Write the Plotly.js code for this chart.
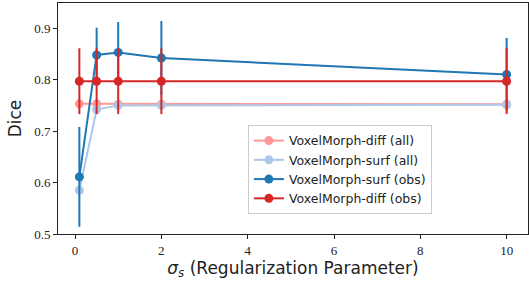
<!DOCTYPE html>
<html><head><meta charset="utf-8">
<script src="https://cdn.plot.ly/plotly-3.0.1.min.js"></script>
<style>html,body{margin:0;padding:0;background:#fff}</style>
</head><body>
<div id="chart" style="width:529px;height:282px"></div>
<script>
var sigma = [0.1, 0.5, 1, 2, 10];
var diffAll = [0.753, 0.753, 0.752, 0.752, 0.752];
var diffAllErr = [0.004, 0.004, 0.004, 0.004, 0.004];
var surfAll = [0.585, 0.742, 0.750, 0.750, 0.751];
var surfAllErr = [0.004, 0.004, 0.004, 0.004, 0.004];
var surfObs = [0.611, 0.848, 0.853, 0.842, 0.810];
var surfObsErr = [0.097, 0.053, 0.059, 0.072, 0.071];
var diffObs = [0.797, 0.797, 0.797, 0.797, 0.797];
var diffObsErr = [0.064, 0.064, 0.064, 0.064, 0.064];
var names = ["VoxelMorph-diff (all)", "VoxelMorph-surf (all)", "VoxelMorph-surf (obs)", "VoxelMorph-diff (obs)"];
var colors = ["#ff9896", "#aec7e8", "#1f77b4", "#d62728"];
var ys = [diffAll, surfAll, surfObs, diffObs];
var errs = [diffAllErr, surfAllErr, surfObsErr, diffObsErr];

var traces = ys.map(function(y, i){
  return {
    x: sigma, y: y, name: names[i], type: 'scatter', mode: 'lines+markers',
    line: {color: colors[i], width: 2},
    marker: {color: colors[i], size: 9},
    error_y: {type: 'data', array: errs[i], visible: true, color: colors[i], thickness: 2, width: 0}
  };
});

var layout = {
  width: 529, height: 282,
  margin: {l: 58, r: 1, t: 3, b: 48},
  paper_bgcolor: '#fff', plot_bgcolor: '#fff',
  showlegend: true,
  legend: {x: 0.404, y: 0.472, xanchor: 'left', yanchor: 'top',
    bgcolor: 'rgba(255,255,255,0.9)', bordercolor: '#cccccc', borderwidth: 1,
    font: {family: 'DejaVu Sans, sans-serif', size: 12.5, color: '#222'}},
  xaxis: {
    range: [-0.395, 10.495], tickvals: [0, 2, 4, 6, 8, 10], ticktext: ['0','2','4','6','8','10'],
    showgrid: false, zeroline: false, showline: true, linecolor: '#222', linewidth: 1, mirror: true,
    ticks: 'outside', ticklen: 4, tickcolor: '#222',
    tickfont: {family: 'Liberation Serif, serif', size: 13, color: '#222'},
    title: {text: '<i>σ</i><sub><i>s</i></sub> (Regularization Parameter)', standoff: 4,
      font: {family: 'DejaVu Sans, sans-serif', size: 17, color: '#222'}}
  },
  yaxis: {
    range: [0.5, 0.949], tickvals: [0.5, 0.6, 0.7, 0.8, 0.9], ticktext: ['0.5','0.6','0.7','0.8','0.9'],
    showgrid: false, zeroline: false, showline: true, linecolor: '#222', linewidth: 1, mirror: true,
    ticks: 'outside', ticklen: 4, tickcolor: '#222',
    tickfont: {family: 'Liberation Serif, serif', size: 13, color: '#222'},
    title: {text: 'Dice', standoff: 8,
      font: {family: 'DejaVu Sans, sans-serif', size: 17, color: '#222'}}
  }
};
Plotly.newPlot('chart', traces, layout, {displayModeBar: false, staticPlot: true});
</script>
</body></html>
